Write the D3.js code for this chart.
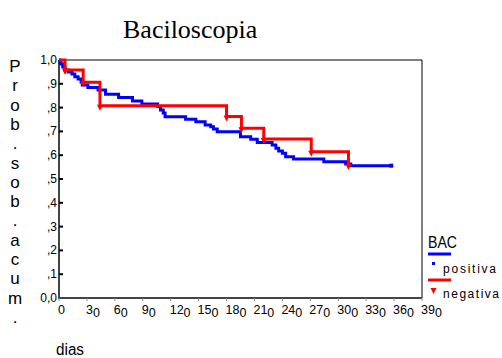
<!DOCTYPE html>
<html>
<head>
<meta charset="utf-8">
<script src="https://cdn.jsdelivr.net/npm/d3@7"></script>
<style>
body { margin: 0; background: #fff; }
svg { display: block; }
text { font-family: "Liberation Sans Narrow", "Arial Narrow", "Liberation Sans", Arial, sans-serif; }
</style>
</head>
<body>
<svg id="chart" width="502" height="358"></svg>
<script>
// tick values
var xTicks = [0, 30, 60, 90, 120, 150, 180, 210, 240, 270, 300, 330, 360, 390];
var yTicks = [0, 0.1, 0.2, 0.3, 0.4, 0.5, 0.6, 0.7, 0.8, 0.9, 1.0];

// BAC positiva: step times (dias) and cumulative survival
var positivaDias = [0, 1, 2, 4, 6.5, 10, 14, 17, 20.5, 23.7, 25, 31, 42, 50, 64, 79, 89, 106, 109, 112, 114,
    136, 147, 157, 163, 166, 170, 195, 206, 213, 229, 233, 236, 240, 243.5, 252, 284.5, 308, 313.5];
var positivaSurv = [1.0, .992, .983, .971, .958, .950, .941, .930, .920, .908, .895, .884, .874, .856, .842, .828, .815, .805, .790, .777, .762,
    .751, .741, .727, .720, .710, .699, .678, .667, .653, .643, .629, .618, .608, .594, .584, .573, .563, .556];
var positivaFim = 357;

// BAC negativa
var negativaDias = [0, 6.5, 26, 44, 180, 196, 220, 271, 311];
var negativaSurv = [1.0, .958, .906, .808, .763, .713, .668, .615, .559];

var svg = d3.select('#chart');
var plot = {l: 59, r: 422, t: 60, b: 298};

var xScale = d3.scaleLinear().domain([0, 390]).range([plot.l, plot.r]);
var yScale = d3.scaleLinear().domain([0, 1]).range([plot.b, plot.t]);

// title
svg.append('text')
    .attr('x', 123).attr('y', 38)
    .style('font-family', '"Liberation Serif", "Times New Roman", serif')
    .attr('font-size', 26)
    .text('Baciloscopia');

// frame (top + right thin black)
svg.append('path')
    .attr('d', 'M' + plot.l + ',' + plot.t + 'H' + plot.r + 'V' + plot.b)
    .attr('fill', 'none').attr('stroke', '#000').attr('stroke-width', 1);

// y axis
var yAxis = svg.append('g');
yAxis.append('line')
    .attr('x1', plot.l).attr('x2', plot.l)
    .attr('y1', plot.t).attr('y2', plot.b + 1)
    .attr('stroke', '#444').attr('stroke-width', 2);
yAxis.selectAll('.ytick').data(yTicks).enter().append('line')
    .attr('class', 'ytick')
    .attr('x1', plot.l).attr('x2', plot.l + 4)
    .attr('y1', function(d) { return yScale(d); })
    .attr('y2', function(d) { return yScale(d); })
    .attr('stroke', '#000').attr('stroke-width', 2);
yAxis.selectAll('.ylab').data(yTicks).enter().append('text')
    .attr('class', 'ylab')
    .attr('x', plot.l - 2)
    .attr('y', function(d) { return yScale(d) + 4; })
    .attr('text-anchor', 'end')
    .attr('font-size', 12)
    .text(function(d) {
        if (d === 1) return '1,0';
        if (d === 0) return '0,0';
        return ',' + Math.round(d * 10);
    });

// x axis
var xAxis = svg.append('g');
xAxis.append('line')
    .attr('x1', plot.l - 1).attr('x2', plot.r)
    .attr('y1', plot.b).attr('y2', plot.b)
    .attr('stroke', '#444').attr('stroke-width', 2);
xAxis.selectAll('.xtick').data(xTicks).enter().append('line')
    .attr('class', 'xtick')
    .attr('x1', function(d) { return xScale(d); })
    .attr('x2', function(d) { return xScale(d); })
    .attr('y1', plot.b).attr('y2', plot.b + 3)
    .attr('stroke', '#888').attr('stroke-width', 1);
var xLab = xAxis.selectAll('.xlab').data(xTicks).enter().append('text')
    .attr('class', 'xlab')
    .attr('x', function(d) { return xScale(d) - 1; })
    .attr('y', 314)
    .attr('font-size', 12.5);
xLab.each(function(d) {
    var t = d3.select(this);
    if (d === 0) { t.text('0'); return; }
    var s = String(d);
    t.append('tspan').text(s.slice(0, -1));
    t.append('tspan').attr('dy', 3).text(s.slice(-1));
});

// axis titles
var yTitle = 'Prob.sob.acum.'.split('');
svg.selectAll('.ytitle').data(yTitle).enter().append('text')
    .attr('class', 'ytitle')
    .attr('x', 15)
    .attr('y', function(d, i) { return 72 + i * 19.3; })
    .attr('text-anchor', 'middle')
    .attr('font-size', 17)
    .text(function(d) { return d; });

svg.append('text')
    .attr('x', 56).attr('y', 355)
    .attr('font-size', 16)
    .attr('textLength', 28).attr('lengthAdjust', 'spacingAndGlyphs')
    .text('dias');

// survival curves
var stepLine = d3.line()
    .x(function(d) { return xScale(d[0]); })
    .y(function(d) { return yScale(d[1]); })
    .curve(d3.curveStepAfter);

var posData = positivaDias.map(function(d, i) { return [d, positivaSurv[i]]; });
posData.push([positivaFim, positivaSurv[positivaSurv.length - 1]]);
var negData = negativaDias.map(function(d, i) { return [d, negativaSurv[i]]; });

svg.append('path')
    .attr('d', stepLine(posData))
    .attr('fill', 'none').attr('stroke', '#0000ff').attr('stroke-width', 3);

svg.append('path')
    .attr('d', stepLine(negData))
    .attr('fill', 'none').attr('stroke', '#ff0000').attr('stroke-width', 3);

// censor markers
var tri = 'M-3,-1L3,-1L0,5Z';
svg.selectAll('.cens').data(negData.slice(1)).enter().append('path')
    .attr('class', 'cens')
    .attr('transform', function(d) { return 'translate(' + xScale(d[0]) + ',' + yScale(d[1]) + ')'; })
    .attr('d', tri)
    .attr('fill', '#ff0000');

svg.append('rect')
    .attr('x', xScale(positivaFim) - 2)
    .attr('y', yScale(positivaSurv[positivaSurv.length - 1]) - 2)
    .attr('width', 4).attr('height', 4)
    .attr('fill', '#0000ff');

// legend
var legend = svg.append('g');
legend.append('text').attr('x', 428).attr('y', 248).attr('font-size', 17)
    .attr('textLength', 29).attr('lengthAdjust', 'spacingAndGlyphs').text('BAC');
legend.append('line').attr('x1', 428).attr('x2', 451).attr('y1', 254).attr('y2', 254)
    .attr('stroke', '#0000ff').attr('stroke-width', 3);
legend.append('rect').attr('x', 432).attr('y', 262).attr('width', 3).attr('height', 3).attr('fill', '#0000ff');
legend.append('text').attr('x', 443).attr('y', 273).attr('font-size', 12)
    .attr('textLength', 53).attr('lengthAdjust', 'spacing').text('positiva');
legend.append('line').attr('x1', 428).attr('x2', 451).attr('y1', 280).attr('y2', 280)
    .attr('stroke', '#ff0000').attr('stroke-width', 3);
legend.append('path').attr('d', 'M430.5,288L436.5,288L433.5,294Z').attr('fill', '#ff0000');
legend.append('text').attr('x', 443).attr('y', 298).attr('font-size', 12)
    .attr('textLength', 56).attr('lengthAdjust', 'spacing').text('negativa');
</script>
</body>
</html>
